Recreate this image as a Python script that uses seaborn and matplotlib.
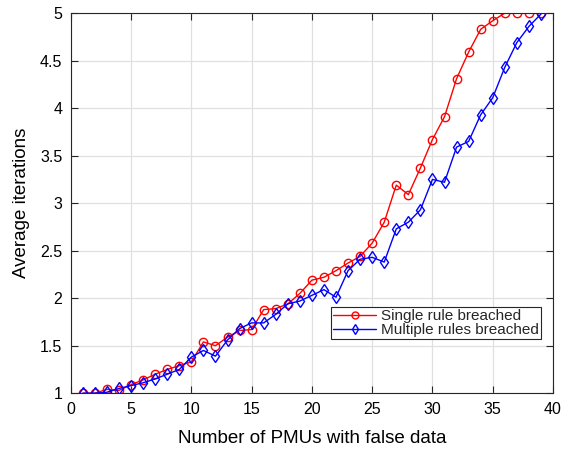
import matplotlib
matplotlib.use("Agg")
import matplotlib.pyplot as plt
import seaborn as sns
import pandas as pd
from matplotlib.lines import Line2D

pmus = list(range(1, 40))
single_rule = [1.00, 1.00, 1.04, 1.03, 1.09, 1.14, 1.20, 1.25, 1.29, 1.33,
               1.54, 1.50, 1.59, 1.66, 1.67, 1.88, 1.89, 1.94, 2.05, 2.19,
               2.22, 2.29, 2.37, 2.44, 2.58, 2.80, 3.19, 3.09, 3.37, 3.67,
               3.91, 4.31, 4.59, 4.83, 4.92, 5.00, 5.00, 5.00, 5.00]
multiple_rules = [1.00, 1.00, 1.01, 1.05, 1.08, 1.11, 1.15, 1.20, 1.25, 1.38,
                  1.45, 1.39, 1.56, 1.68, 1.74, 1.74, 1.83, 1.94, 1.97, 2.03,
                  2.09, 2.01, 2.29, 2.41, 2.43, 2.38, 2.73, 2.80, 2.93, 3.25,
                  3.22, 3.59, 3.65, 3.93, 4.11, 4.43, 4.69, 4.86, 4.99]
series_names = ["Single rule breached", "Multiple rules breached"]
x_ticks = [0, 5, 10, 15, 20, 25, 30, 35, 40]
y_ticks = [1, 1.5, 2, 2.5, 3, 3.5, 4, 4.5, 5]
y_tick_labels = ["1", "1.5", "2", "2.5", "3", "3.5", "4", "4.5", "5"]

df = pd.DataFrame({
    "x": pmus * 2,
    "y": single_rule + multiple_rules,
    "series": [series_names[0]] * len(pmus) + [series_names[1]] * len(pmus),
})

sns.set_theme(style="whitegrid")
plt.rcParams["font.family"] = ["Liberation Sans", "DejaVu Sans"]

fig = plt.figure(figsize=(5.62, 4.53), dpi=100)
ax = fig.add_axes([0.126, 0.132, 0.858, 0.839])

sns.lineplot(data=df, x="x", y="y", hue="series", style="series",
             palette=["#ff0000", "#0000ff"], markers=["o", "d"], dashes=False,
             markersize=6, markerfacecolor="none", markeredgewidth=1.0,
             linewidth=1.0, ax=ax, legend=False)

for line, c in zip(ax.get_lines(), ["#ff0000", "#0000ff"]):
    line.set_markeredgecolor(c)
    line.set_markerfacecolor("none")

ax.set_xlim(0, 40)
ax.set_ylim(1, 5)
ax.set_xticks(x_ticks)
ax.set_yticks(y_ticks)
ax.set_yticklabels(y_tick_labels)
ax.tick_params(axis="both", direction="in", length=5, width=0.8, labelsize=11.5,
               colors="#262626", top=True, right=True, bottom=True, left=True,
               labelcolor="black", pad=6)
ax.grid(True, color="#e0e0e0", linewidth=0.9)
for sp in ax.spines.values():
    sp.set_color("#262626")
    sp.set_linewidth(0.8)
ax.set_xlabel("Number of PMUs with false data", fontsize=13.5, color="black",
              labelpad=10)
ax.set_ylabel("Average iterations", fontsize=13.5, color="black", labelpad=7)

handles = [Line2D([], [], color="#ff0000", marker="o", markerfacecolor="none",
                  markersize=5, linewidth=1.0),
           Line2D([], [], color="#0000ff", marker="d", markerfacecolor="none",
                  markersize=5, linewidth=1.0)]
leg = ax.legend(handles, series_names, loc="lower right",
                bbox_to_anchor=(0.975, 0.142), fontsize=11, frameon=True,
                fancybox=False, framealpha=1, edgecolor="#262626",
                borderpad=0.15, labelspacing=0.0, handlelength=2.8,
                handletextpad=0.3, borderaxespad=0)
leg.get_frame().set_linewidth(0.8)

fig.savefig("out.png", dpi=100)
